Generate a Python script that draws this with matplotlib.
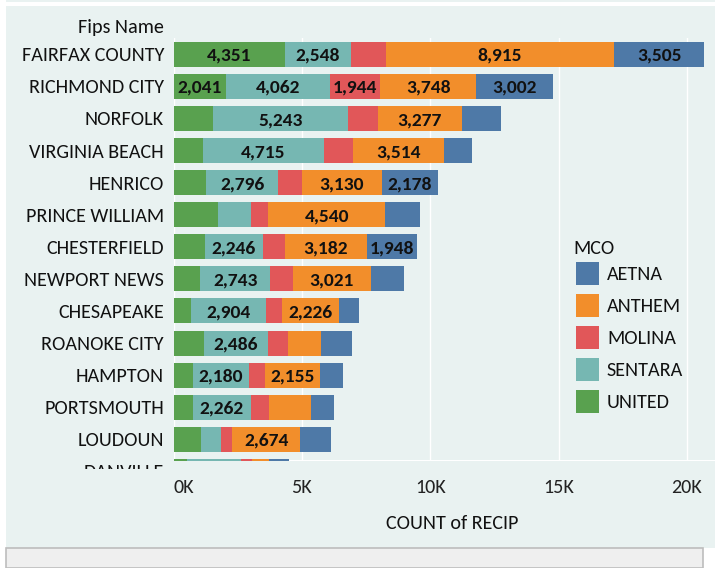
import numpy as np
import matplotlib
matplotlib.use('Agg')
import matplotlib.pyplot as plt
from matplotlib.patches import Rectangle

# data (counts of recipients by county and MCO)
counties = ['FAIRFAX COUNTY', 'RICHMOND CITY', 'NORFOLK', 'VIRGINIA BEACH', 'HENRICO',
            'PRINCE WILLIAM', 'CHESTERFIELD', 'NEWPORT NEWS', 'CHESAPEAKE', 'ROANOKE CITY',
            'HAMPTON', 'PORTSMOUTH', 'LOUDOUN', 'DANVILLE']
united = [4351, 2041, 1540, 1150, 1270, 1720, 1230, 1030, 690, 1190, 750, 750, 1070, 530]
sentara = [2548, 4062, 5243, 4715, 2796, 1290, 2246, 2743, 2904, 2486, 2180, 2262, 780, 2090]
molina = [1360, 1944, 1170, 1140, 930, 690, 870, 880, 630, 800, 620, 700, 420, 430]
anthem = [8915, 3748, 3277, 3514, 3130, 4540, 3182, 3021, 2226, 1250, 2155, 1630, 2674, 670]
aetna = [3505, 3002, 1510, 1100, 2178, 1350, 1948, 1300, 780, 1210, 900, 890, 1200, 770]

mco_names = ['UNITED', 'SENTARA', 'MOLINA', 'ANTHEM', 'AETNA']
mco_values = [united, sentara, molina, anthem, aetna]
mco_colors = ['#59A14F', '#76B7B2', '#E15759', '#F28E2B', '#4E79A7']
xticks = [0, 5000, 10000, 15000, 20000]
xtick_labels = ['0K', '5K', '10K', '15K', '20K']

plt.rcParams['font.family'] = ['Carlito', 'Lato', 'DejaVu Sans']

W, H = 715, 568
bg = '#E9F2F1'
fs = 14.5
fig = plt.figure(figsize=(W / 100, H / 100), dpi=100)
fig.patch.set_facecolor('white')


def fx(px):
    return px / W


def fy(py):
    return 1 - py / H


# panel background, top strip and the empty box at the bottom
fig.add_artist(Rectangle((fx(6), fy(548)), fx(W - 6), 542 / H, transform=fig.transFigure,
                         facecolor=bg, edgecolor='none', zorder=0))
fig.add_artist(Rectangle((fx(6), fy(2)), fx(W - 6), 2 / H, transform=fig.transFigure,
                         facecolor=bg, edgecolor='none', zorder=0))
fig.add_artist(Rectangle((fx(6), fy(568)), fx(697), 20 / H, transform=fig.transFigure,
                         facecolor='#EFEFEF', edgecolor='#BDBDBD', lw=1.2, zorder=0))

# plot area
x0, top, bottom = 173.5, 38.3, 461.3
pitch = 32.08
ppu = (687 - x0) / 20000.0
ax = fig.add_axes([fx(x0), fy(bottom), fx(W - x0), (bottom - top) / H])
ax.set_facecolor(bg)
ax.set_xlim(0, (W - x0) / ppu)
ax.set_ylim(-0.5 + (bottom - top) / pitch, -0.5)

y = np.arange(len(counties))
left = np.zeros(len(counties))
for name, vals, color in zip(mco_names, mco_values, mco_colors):
    vals = np.array(vals)
    ax.barh(y, vals, left=left, height=0.78, color=color, zorder=2)
    for i in range(len(vals)):
        if vals[i] >= 1900:
            ax.text(left[i] + vals[i] / 2, y[i], f'{vals[i]:,}', ha='center', va='center_baseline',
                    fontsize=14, fontweight='bold', color='#111111', zorder=3, clip_on=True)
    left = left + vals

for x in xticks:
    ax.axvline(x, color='white', lw=1, zorder=1)
ax.axhline(ax.get_ylim()[0], color='white', lw=1.5, zorder=1)
for s in ax.spines.values():
    s.set_visible(False)
ax.set_yticks([])
ax.set_xticks(xticks)
ax.set_xticklabels(xtick_labels, fontsize=fs, color='#222222')
ax.tick_params(axis='x', length=0, pad=13)
ax.get_xticklabels()[0].set_horizontalalignment('left')

# county names in their own axes so the last row is cut off like the scrolled view
lab_bottom = 469
lab = fig.add_axes([0, fy(lab_bottom), fx(x0), (lab_bottom - top) / H])
lab.set_xlim(0, x0)
lab.set_ylim(-0.5 + (lab_bottom - top) / pitch, -0.5)
lab.axis('off')
for i, name in enumerate(counties):
    lab.text(164, i, name, ha='right', va='center_baseline', fontsize=fs, color='#111111',
             clip_on=True)

fig.text(fx(164), fy(26), 'Fips Name', ha='right', va='center_baseline', fontsize=fs, color='#111111')
fig.text(fx(452), fy(522), 'COUNT of RECIP', ha='center', va='center_baseline', fontsize=fs,
         color='#111111')

# legend
fig.text(fx(573), fy(247), 'MCO', ha='left', va='center_baseline', fontsize=fs, color='#111111')
for k, (name, color) in enumerate(zip(mco_names[::-1], mco_colors[::-1])):
    cy = 273.3 + k * 32.0
    fig.add_artist(Rectangle((fx(576), fy(cy + 11.3)), fx(22.6), 22.6 / H,
                             transform=fig.transFigure, facecolor=color, edgecolor='none'))
    fig.text(fx(607), fy(cy), name, ha='left', va='center_baseline', fontsize=fs, color='#111111')

fig.savefig('out.png', dpi=100, facecolor=fig.get_facecolor())
